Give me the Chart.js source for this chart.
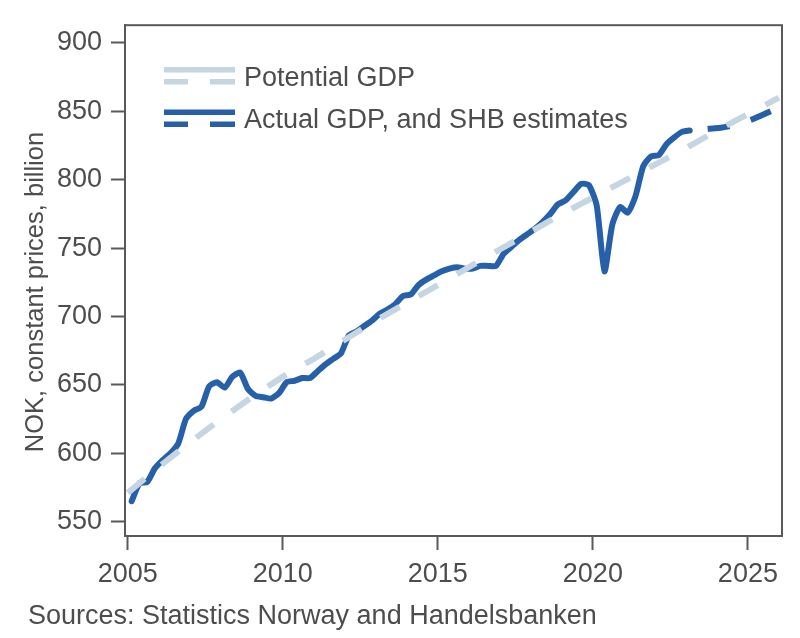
<!DOCTYPE html>
<html>
<head>
<meta charset="utf-8">
<title>Norway GDP vs potential</title>
<script src="https://cdn.jsdelivr.net/npm/chart.js@4.4.1/dist/chart.umd.min.js"></script>
<style>
  html, body { margin: 0; padding: 0; background: #fff; }
</style>
</head>
<body>
<canvas id="gdp" width="800" height="638"></canvas>
<script>
// Actual GDP, quarterly (NOK bn, constant prices)
const actualQuarters = [
  '2005Q1','2005Q2','2005Q3','2005Q4','2006Q1','2006Q2','2006Q3','2006Q4',
  '2007Q1','2007Q2','2007Q3','2007Q4','2008Q1','2008Q2','2008Q3','2008Q4',
  '2009Q1','2009Q2','2009Q3','2009Q4','2010Q1','2010Q2','2010Q3','2010Q4',
  '2011Q1','2011Q2','2011Q3','2011Q4','2012Q1','2012Q2','2012Q3','2012Q4',
  '2013Q1','2013Q2','2013Q3','2013Q4','2014Q1','2014Q2','2014Q3','2014Q4',
  '2015Q1','2015Q2','2015Q3','2015Q4','2016Q1','2016Q2','2016Q3','2016Q4',
  '2017Q1','2017Q2','2017Q3','2017Q4','2018Q1','2018Q2','2018Q3','2018Q4',
  '2019Q1','2019Q2','2019Q3','2019Q4','2020Q1','2020Q2','2020Q3','2020Q4',
  '2021Q1','2021Q2','2021Q3','2021Q4','2022Q1','2022Q2','2022Q3','2022Q4',
  '2023Q1'
];
const actualValues = [
  565, 578, 579, 589, 595, 600, 607, 625,
  631, 634, 649, 652, 648, 656, 659, 647,
  642, 641, 640, 644, 652, 653, 655, 655,
  660, 665, 669, 673, 686, 689, 693, 697,
  702, 705, 709, 715, 716, 723, 727, 730,
  733, 735, 736, 735, 735, 737, 737, 737,
  746, 751, 756, 760, 764, 769, 775, 782,
  785, 791, 797, 796, 781, 733, 767, 780,
  776, 788, 810, 817, 818, 826, 831, 835,
  836
];

// SHB estimates, quarterly
const estimateQuarters = [
  '2023Q1','2023Q2','2023Q3','2023Q4','2024Q1','2024Q2','2024Q3','2024Q4',
  '2025Q1','2025Q2','2025Q3','2025Q4','2026Q1'
];
const estimateValues = [836, 836.5, 837, 837.5, 838, 839, 840.5, 842, 844, 846.5, 849, 851.5, 854];

// Potential GDP, annual
const potentialYears = [2005, 2006, 2007, 2008, 2009, 2010, 2011, 2012, 2013, 2014, 2015,
  2016, 2017, 2018, 2019, 2020, 2021, 2022, 2023, 2024, 2025, 2026];
const potentialValues = [571, 590, 608, 625, 641, 656, 669, 683, 697, 710, 723,
  736, 749, 762, 775, 787, 799, 811, 823, 836, 848, 860];

const xTicks = [2005, 2010, 2015, 2020, 2025];
const yTicks = [550, 600, 650, 700, 750, 800, 850, 900];

const darkBlue = '#2660a8';
const lightBlue = '#c5d6e2';
const axisGray = '#595959';
const textGray = '#4d4d4d';
const fontFamily = "'Liberation Sans', Arial, Helvetica, sans-serif";

// quarter label -> decimal year, placed mid-quarter
function quarterPos(q) {
  const year = parseInt(q.slice(0, 4), 10);
  const n = parseInt(q.slice(5), 10);
  return year + (n - 1) / 4 + 0.125;
}

const actualPoints = actualQuarters.map((q, i) => ({ x: quarterPos(q), y: actualValues[i] }));
const estimatePoints = estimateQuarters.map((q, i) => ({ x: quarterPos(q), y: estimateValues[i] }));
const potentialPoints = potentialYears.map((y, i) => ({ x: y, y: potentialValues[i] }));

// frame, axis title, legend and source note
const decorations = {
  id: 'decorations',
  afterDraw(chart) {
    const ctx = chart.ctx;
    const a = chart.chartArea;
    ctx.save();
    ctx.strokeStyle = axisGray;
    ctx.lineWidth = 2;
    ctx.strokeRect(a.left, a.top, a.right - a.left, a.bottom - a.top);

    // y axis title, a bit below the plot centre like the original
    ctx.save();
    ctx.translate(36, 292);
    ctx.rotate(-Math.PI / 2);
    ctx.font = '25.5px ' + fontFamily;
    ctx.fillStyle = textGray;
    ctx.textAlign = 'center';
    ctx.textBaseline = 'middle';
    ctx.fillText('NOK, constant prices, billion', 0, 0);
    ctx.restore();

    const rows = [
      { text: 'Potential GDP', color: lightBlue, top: 67 },
      { text: 'Actual GDP, and SHB estimates', color: darkBlue, top: 109.5 }
    ];
    ctx.font = '27px ' + fontFamily;
    ctx.textBaseline = 'alphabetic';
    rows.forEach(r => {
      ctx.fillStyle = r.color;
      ctx.fillRect(164, r.top, 71, 5.5);
      ctx.fillRect(164, r.top + 12, 24, 5.5);
      ctx.fillRect(210, r.top + 12, 25, 5.5);
      ctx.fillStyle = textGray;
      ctx.fillText(r.text, 244, r.top + 18.5);
    });

    ctx.fillStyle = textGray;
    ctx.fillText('Sources: Statistics Norway and Handelsbanken', 28, 624);
    ctx.restore();
  }
};

const ctx = document.getElementById('gdp').getContext('2d');
new Chart(ctx, {
  type: 'line',
  data: {
    datasets: [
      {
        label: 'Potential GDP',
        data: potentialPoints,
        borderColor: lightBlue,
        borderWidth: 6,
        borderDash: [22, 22],
        borderCapStyle: 'butt',
        pointRadius: 0,
        tension: 0,
        clip: 0,
        order: 0
      },
      {
        label: 'Actual GDP',
        data: actualPoints,
        borderColor: darkBlue,
        borderWidth: 6,
        borderJoinStyle: 'round',
        borderCapStyle: 'round',
        pointRadius: 0,
        tension: 0.2,
        clip: 0,
        order: 1
      },
      {
        label: 'SHB estimates',
        data: estimatePoints,
        borderColor: darkBlue,
        borderWidth: 6,
        borderDash: [22, 22],
        borderDashOffset: 26,
        pointRadius: 0,
        tension: 0.2,
        clip: 0,
        order: 2
      }
    ]
  },
  options: {
    responsive: false,
    animation: false,
    layout: { padding: { top: 22, right: 18, left: 0, bottom: 0 } },
    plugins: {
      legend: { display: false },
      tooltip: { enabled: false }
    },
    scales: {
      x: {
        type: 'linear',
        min: 2004.91,
        max: 2026.1,
        afterBuildTicks: axis => { axis.ticks = xTicks.map(v => ({ value: v })); },
        afterFit: axis => { axis.height = 102; },
        grid: { drawOnChartArea: false, drawTicks: true, tickLength: 14, tickWidth: 2, tickColor: axisGray },
        border: { display: true, color: axisGray, width: 2 },
        ticks: {
          padding: 8,
          color: textGray,
          font: { family: fontFamily, size: 27 },
          maxRotation: 0,
          autoSkip: false,
          callback: v => String(v)
        }
      },
      y: {
        min: 539.5,
        max: 913,
        afterBuildTicks: axis => { axis.ticks = yTicks.map(v => ({ value: v })); },
        afterFit: axis => { axis.width = 125; },
        grid: { drawOnChartArea: false, drawTicks: true, tickLength: 14, tickWidth: 2, tickColor: axisGray },
        border: { display: true, color: axisGray, width: 2 },
        ticks: {
          padding: 9,
          color: textGray,
          font: { family: fontFamily, size: 27 },
          autoSkip: false,
          callback: v => String(v)
        }
      }
    }
  },
  plugins: [decorations]
});
</script>
</body>
</html>
